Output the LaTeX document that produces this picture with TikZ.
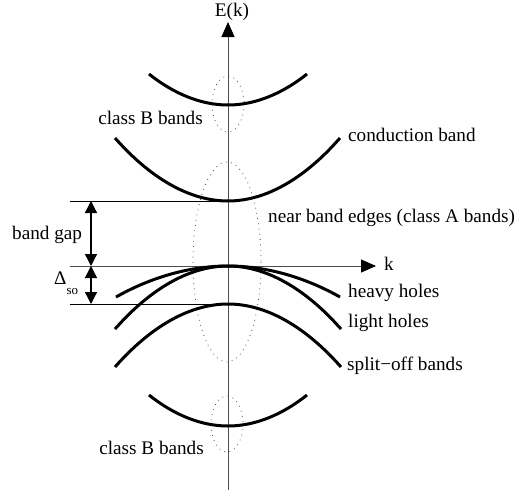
\documentclass[tikz,border=0pt]{standalone}
\usepackage{fontspec}
\setmainfont{Liberation Serif}
\usepackage{tikz}
\usetikzlibrary{arrows.meta}

\begin{document}
\begin{tikzpicture}[x=1pt,y=-1pt, font=\fontsize{19.2}{23}\selectfont, band/.style={line width=3pt}, axis/.style={line width=1pt,draw=black!70,-{Triangle[length=15pt,width=13pt,black]}}, edge/.style={line width=0.9pt}, gap/.style={line width=1.3pt,{Triangle[length=12pt,width=12pt]}-{Triangle[length=12pt,width=12pt]}}, region/.style={draw=black!70,line width=0.8pt,dash pattern=on 0.8pt off 4.5pt}, lab/.style={inner sep=0pt}]
\useasboundingbox (0,0) rectangle (517,490);
% axes and reference levels
\coordinate (ytop) at (228,22);
\coordinate (ybot) at (228,490);
\coordinate (xleft) at (70,266);
\coordinate (xright) at (376,266);
\coordinate (cbmin) at (228,201);
\coordinate (somax) at (228,304);
\coordinate (gtop) at (70,201);
\coordinate (gbot) at (70,304);
\coordinate (atop) at (91,201);
\coordinate (amid) at (91,266);
\coordinate (abot) at (91,304);
% dotted regions
\draw[region] (228,104) ellipse [x radius=16,y radius=28];
\draw[region] (227,262) ellipse [x radius=34,y radius=100];
\draw[region] (227,424) ellipse [x radius=16,y radius=28];
\draw[axis] (ybot)--(ytop);
\draw[axis] (xleft)--(xright);
\draw[edge] (gtop)--(cbmin);
\draw[edge] (gbot)--(somax);
\draw[gap] (atop)--(amid);
\draw[gap] (amid)--(abot);
% bands
\draw[band] (149,74) parabola bend (228,105) (307,74);
\draw[band] (115,138) parabola bend (cbmin) (340,138);
\draw[band] (116,297) parabola bend (228,266) (340,297);
\draw[band] (115,329) parabola bend (228,266) (341,329);
\draw[band] (115,367) parabola bend (somax) (341,367);
\draw[band] (149,395) parabola bend (228,426) (307,395);
% labels
\node[lab] (energy) at (232,12) {E(k)};
\node[lab,anchor=west] (wave) at (384,264) {k};
\node[lab,anchor=east] (classbup) at (203,118) {class B bands};
\node[lab,anchor=west] (cband) at (348,135) {conduction band};
\node[lab,anchor=west] (edges) at (268,218) {near band edges (class A bands)};
\node[lab,anchor=west] (bgap) at (12,235) {band gap};
\node[lab,anchor=west] (split) at (54,283) {Δ\raisebox{-1.1ex}{\fontsize{13}{13}\selectfont so}};
\node[lab,anchor=west] (heavy) at (348,293) {heavy holes};
\node[lab,anchor=west] (light) at (348,323) {light holes};
\node[lab,anchor=west] (soff) at (347,366) {split−off bands};
\node[lab,anchor=east] (classblow) at (204,448) {class B bands};
\end{tikzpicture}
\end{document}
